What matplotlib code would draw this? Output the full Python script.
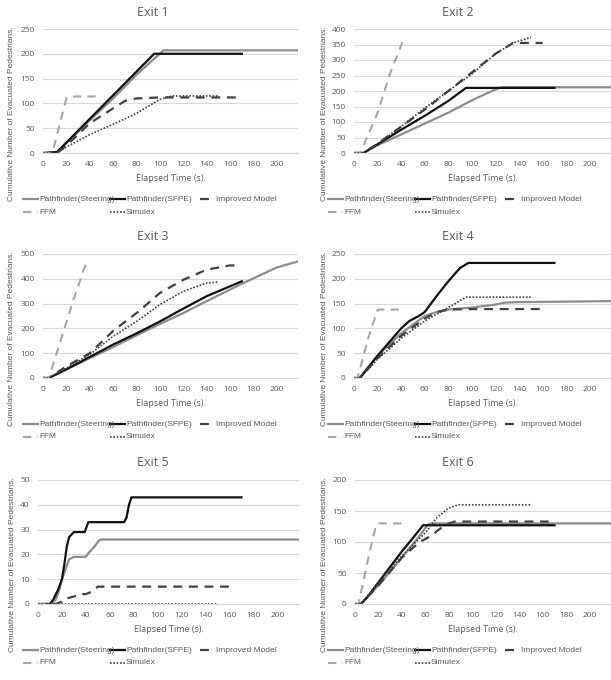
import matplotlib.pyplot as plt
from matplotlib.lines import Line2D

plt.rcParams['font.family'] = ['Open Sans', 'DejaVu Sans']

labels = ["Pathfinder(Steering)", "Pathfinder(SFPE)", "Improved Model", "FFM", "Simulex"]
titles = ["Exit 1", "Exit 2", "Exit 3", "Exit 4", "Exit 5", "Exit 6"]
y_max = [250, 400, 500, 250, 50, 200]
y_step = [50, 50, 100, 50, 10, 50]

# Exit 1
e1_steer_t = [0, 10, 13, 20, 40, 60, 80, 95, 103, 218]
e1_steer_n = [0, 0, 2, 20, 66, 110, 158, 190, 207, 207]
e1_sfpe_t = [0, 12, 95, 170]
e1_sfpe_n = [0, 2, 200, 200]
e1_impr_t = [0, 12, 20, 40, 60, 70, 80, 100, 165]
e1_impr_n = [0, 0, 15, 60, 90, 105, 110, 112, 112]
e1_ffm_t = [0, 8, 20, 22, 45]
e1_ffm_n = [0, 0, 110, 114, 114]
e1_simx_t = [0, 12, 20, 40, 60, 80, 100, 110, 150]
e1_simx_n = [0, 0, 12, 37, 58, 80, 108, 115, 115]

# Exit 2
e2_steer_t = [0, 8, 20, 40, 60, 80, 100, 120, 125, 218]
e2_steer_n = [0, 0, 25, 60, 95, 130, 170, 205, 212, 212]
e2_sfpe_t = [0, 8, 20, 40, 60, 80, 95, 170]
e2_sfpe_n = [0, 0, 28, 75, 120, 168, 210, 210]
e2_impr_t = [0, 8, 20, 40, 60, 80, 100, 120, 135, 160]
e2_impr_n = [0, 0, 30, 85, 140, 200, 260, 320, 355, 355]
e2_ffm_t = [0, 5, 10, 20, 30, 41]
e2_ffm_n = [0, 0, 40, 130, 250, 357]
e2_simx_t = [0, 8, 20, 40, 60, 80, 100, 120, 135, 150]
e2_simx_n = [0, 0, 30, 85, 145, 200, 255, 320, 355, 373]

# Exit 3
e3_steer_t = [0, 5, 20, 40, 60, 80, 100, 120, 140, 170, 200, 218]
e3_steer_n = [0, 0, 35, 80, 125, 172, 218, 262, 310, 380, 446, 470]
e3_sfpe_t = [0, 5, 20, 40, 60, 80, 100, 120, 140, 170]
e3_sfpe_n = [0, 0, 35, 85, 135, 180, 228, 280, 330, 390]
e3_impr_t = [0, 5, 20, 40, 60, 80, 100, 120, 140, 160, 165]
e3_impr_n = [0, 0, 47, 100, 190, 262, 343, 396, 437, 454, 454]
e3_ffm_t = [0, 5, 15, 25, 37]
e3_ffm_n = [0, 0, 150, 300, 465]
e3_simx_t = [0, 5, 20, 40, 60, 80, 100, 120, 140, 150]
e3_simx_n = [0, 0, 40, 95, 168, 228, 296, 350, 383, 387]

# Exit 4
e4_steer_t = [0, 5, 20, 40, 60, 70, 80, 100, 120, 128, 140, 218]
e4_steer_n = [0, 0, 45, 90, 125, 133, 138, 142, 148, 152, 153, 155]
e4_sfpe_t = [0, 5, 20, 40, 47, 55, 60, 70, 80, 90, 97, 170]
e4_sfpe_n = [0, 0, 45, 100, 115, 125, 133, 165, 195, 222, 232, 232]
e4_impr_t = [0, 5, 20, 40, 60, 70, 80, 100, 160]
e4_impr_n = [0, 0, 40, 85, 120, 133, 138, 139, 139]
e4_ffm_t = [0, 3, 12, 20, 22, 42]
e4_ffm_n = [0, 0, 80, 137, 138, 138]
e4_simx_t = [0, 5, 20, 40, 60, 80, 95, 150]
e4_simx_n = [0, 0, 38, 80, 115, 142, 163, 163]

# Exit 5
e5_steer_t = [0, 12, 15, 18, 20, 23, 26, 30, 40, 43, 45, 47, 50, 52, 218]
e5_steer_n = [0, 0, 2, 6, 10, 14, 18, 19, 19, 21, 22, 23, 25, 26, 26]
e5_sfpe_t = [0, 10, 13, 17, 20, 22, 24, 26, 28, 30, 39, 42, 72, 74, 76, 78, 170]
e5_sfpe_n = [0, 0, 2, 6, 10, 16, 23, 27, 28, 29, 29, 33, 33, 35, 40, 43, 43]
e5_impr_t = [0, 15, 20, 22, 30, 35, 40, 45, 50, 165]
e5_impr_n = [0, 0, 1, 2, 3, 4, 4, 5, 7, 7]
e5_ffm_t = [0, 10]
e5_ffm_n = [0, 0]
e5_simx_t = [0, 150]
e5_simx_n = [0, 0]

# Exit 6
e6_steer_t = [0, 5, 20, 40, 55, 62, 65, 218]
e6_steer_n = [0, 0, 30, 75, 110, 128, 130, 130]
e6_sfpe_t = [0, 5, 10, 20, 30, 40, 50, 58, 170]
e6_sfpe_n = [0, 0, 10, 35, 60, 85, 108, 127, 127]
e6_impr_t = [0, 5, 20, 40, 55, 65, 70, 75, 80, 85, 165]
e6_impr_n = [0, 0, 30, 75, 100, 110, 118, 125, 130, 133, 133]
e6_ffm_t = [0, 3, 12, 18, 20, 42]
e6_ffm_n = [0, 0, 80, 128, 130, 130]
e6_simx_t = [0, 5, 20, 40, 60, 70, 80, 88, 150]
e6_simx_n = [0, 0, 35, 78, 115, 140, 155, 160, 160]

panels = [
	[(e1_steer_t, e1_steer_n), (e1_sfpe_t, e1_sfpe_n), (e1_impr_t, e1_impr_n), (e1_ffm_t, e1_ffm_n), (e1_simx_t, e1_simx_n)],
	[(e2_steer_t, e2_steer_n), (e2_sfpe_t, e2_sfpe_n), (e2_impr_t, e2_impr_n), (e2_ffm_t, e2_ffm_n), (e2_simx_t, e2_simx_n)],
	[(e3_steer_t, e3_steer_n), (e3_sfpe_t, e3_sfpe_n), (e3_impr_t, e3_impr_n), (e3_ffm_t, e3_ffm_n), (e3_simx_t, e3_simx_n)],
	[(e4_steer_t, e4_steer_n), (e4_sfpe_t, e4_sfpe_n), (e4_impr_t, e4_impr_n), (e4_ffm_t, e4_ffm_n), (e4_simx_t, e4_simx_n)],
	[(e5_steer_t, e5_steer_n), (e5_sfpe_t, e5_sfpe_n), (e5_impr_t, e5_impr_n), (e5_ffm_t, e5_ffm_n), (e5_simx_t, e5_simx_n)],
	[(e6_steer_t, e6_steer_n), (e6_sfpe_t, e6_sfpe_n), (e6_impr_t, e6_impr_n), (e6_ffm_t, e6_ffm_n), (e6_simx_t, e6_simx_n)],
]

styles = [
	dict(color="#8c8c8c", linestyle="-", linewidth=1.6),
	dict(color="#111111", linestyle="-", linewidth=1.6),
	dict(color="#404040", linestyle=(0, (4, 3)), linewidth=1.6),
	dict(color="#a6a6a6", linestyle=(0, (4, 3)), linewidth=1.5),
	dict(color="#404040", linestyle=(0, (1, 1)), linewidth=1.2),
]

text_col = "#595959"
small = ['Liberation Sans', 'DejaVu Sans']
W, H = 611, 680
fig = plt.figure(figsize=(6.11, 6.80), dpi=100)

# pixel boxes: left, top, right, bottom
boxes = [
	(43, 29, 298, 153), (354, 29, 611, 153),
	(43, 254, 298, 378), (354, 254, 611, 378),
	(38, 480, 299, 604), (355, 480, 611, 604),
]
chart_x0 = [0, 305, 0, 305, 0, 305]
ylab_x = [12, 325, 12, 325, 13, 325]
# legend slots (x offset, row) per series, Excel-like layout
leg_x = [23, 110, 200, 23, 110]
leg_row = [0, 0, 0, 1, 1]

for i in range(6):
	l, t, r, b = boxes[i]
	ax = fig.add_axes([l / W, 1 - b / H, (r - l) / W, (b - t) / H])
	for (xs, ys), st in zip(panels[i], styles):
		ax.plot(xs, ys, **st)
	ax.set_xlim(0, 218)
	ax.set_ylim(0, y_max[i])
	ax.set_xticks(range(0, 201, 20))
	ax.set_yticks(range(0, y_max[i] + 1, y_step[i]))
	ax.grid(axis="y", color="#d9d9d9", linewidth=0.8)
	ax.set_axisbelow(True)
	for s in ["top", "right", "left"]:
		ax.spines[s].set_visible(False)
	ax.spines["bottom"].set_color("#d9d9d9")
	ax.tick_params(length=0, labelsize=6, labelcolor=text_col, pad=6)
	ax.set_xlabel("Elapsed Time (s).", fontsize=6.5, color=text_col, labelpad=4)
	fig.text(ylab_x[i] / W, 1 - (t + 85) / H, "Cumulative Number of Evacuated Pedestrians.",
		rotation=90, ha="center", va="center", fontsize=6, color=text_col, family=small)

	cx = chart_x0[i] + 153
	fig.text(cx / W, 1 - (t - 17) / H, titles[i], ha="center", va="center", fontsize=9, color=text_col)

	# legend below the plot
	for k in range(5):
		x0 = chart_x0[i] + leg_x[k]
		y0 = t + 170 + 13 * leg_row[k]
		fig.add_artist(Line2D([x0 / W, (x0 + 15) / W], [1 - y0 / H, 1 - y0 / H], **styles[k]))
		fig.text((x0 + 16) / W, 1 - y0 / H, labels[k], ha="left", va="center",
			fontsize=6, color=text_col, family=small)

fig.savefig("out.png", dpi=100)
